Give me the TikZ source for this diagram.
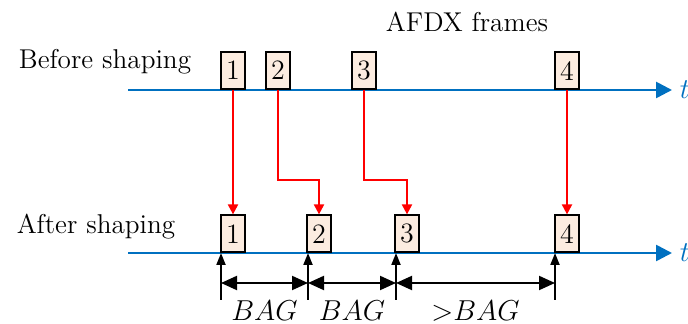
\documentclass[tikz,border=0pt]{standalone}
\usepackage{tikz}
\usetikzlibrary{positioning, arrows.meta}
\definecolor{axisblue}{RGB}{0,112,192}
\definecolor{framefill}{RGB}{252,236,224}

\begin{document}
\begin{tikzpicture}[x=0.5pt, y=0.5pt,
  txt/.style={font=\fontsize{13.6}{16}\selectfont},
  frame/.style={draw, thick, fill=framefill, minimum width=12pt, minimum height=18.5pt, inner sep=0pt, anchor=south, font=\fontsize{14}{16}\selectfont},
  timeaxis/.style={axisblue, line width=1.3pt, -{Triangle[length=8pt, width=8pt]}},
  move/.style={red, line width=1pt, -{Triangle[length=5pt, width=5pt]}},
  marker/.style={line width=1pt, -{Triangle[length=6pt, width=4.5pt]}},
  gap/.style={line width=1pt, {Triangle[length=8pt, width=7pt]}-{Triangle[length=8pt, width=7pt]}}]
  \useasboundingbox (0,0) rectangle (688,324);

  % labels
  \node[txt] (before) at (105,262) {Before shaping};
  \node[txt] (after) at (96,97) {After shaping};
  \node[txt] (afdx) at (467,302) {AFDX frames};

  % time axes
  \coordinate (ta) at (128,234);
  \coordinate (tb) at (672,234);
  \coordinate (ua) at (128,71);
  \coordinate (ub) at (672,71);
  \draw[timeaxis] (ta) -- (tb) node[right, txt] (t1) {$t$};
  \draw[timeaxis] (ua) -- (ub) node[right, txt] (t2) {$t$};

  % frames before shaping
  \node[frame] (f1) at (233,234) {1};
  \node[frame] (f2) at (278,234) {2};
  \node[frame] (f3) at (364,234) {3};
  \node[frame] (f4) at (567,234) {4};

  % frames after shaping
  \node[frame] (g1) at (233,71) {1};
  \node[frame] (g2) at (319,71) {2};
  \node[frame] (g3) at (407,71) {3};
  \node[frame] (g4) at (567,71) {4};

  \draw[move] (f1.south) -- (g1.north);
  \draw[move] (f2.south) -- ++(0,-90) -| (g2.north);
  \draw[move] (f3.south) -- ++(0,-90) -| (g3.north);
  \draw[move] (f4.south) -- (g4.north);

  % BAG markers
  \coordinate (m1) at (221,24);
  \coordinate (m2) at (308,24);
  \coordinate (m3) at (396,24);
  \coordinate (m4) at (555,24);
  \draw[marker] (m1) -- (m1 |- ua);
  \draw[marker] (m2) -- (m2 |- ua);
  \draw[marker] (m3) -- (m3 |- ua);
  \draw[marker] (m4) -- (m4 |- ua);

  \coordinate (h1) at (221,41);
  \coordinate (h2) at (308,41);
  \coordinate (h3) at (396,41);
  \coordinate (h4) at (555,41);
  \draw[gap] (h1) -- node[below=5pt, txt] (bag1) {$BAG$} (h2);
  \draw[gap] (h2) -- node[below=5pt, txt] (bag2) {$BAG$} (h3);
  \draw[gap] (h3) -- node[below=5pt, txt] (bag3) {$>$$BAG$} (h4);
\end{tikzpicture}
\end{document}
